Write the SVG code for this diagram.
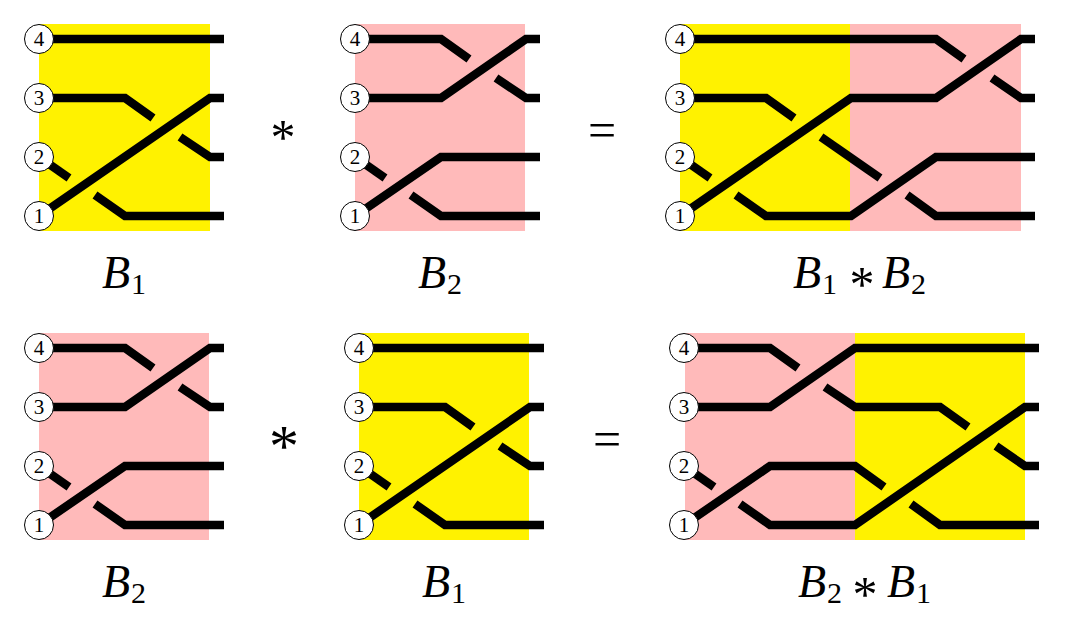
<svg xmlns="http://www.w3.org/2000/svg" width="1065" height="630" viewBox="0 0 1065 630">
<style>
.y{fill:#fff200}.p{fill:#ffbaba}
.s{fill:none;stroke:#000;stroke-width:8.500;stroke-linejoin:miter}
.c{fill:#fff;stroke:#000;stroke-width:1}
.n{font-family:"Liberation Serif",serif;font-size:21px;text-anchor:middle;fill:#000}
.l{font-family:"Liberation Serif",serif;font-size:46px;fill:#000}
.i{font-style:italic}
.sub{font-size:30px}
.o{font-family:"Liberation Serif",serif;fill:#000;text-anchor:middle}
</style>
<defs>
<g id="nums">
<g><circle class="c" cx="39" cy="39" r="14.500"/><text class="n" x="39" y="46">4</text></g>
<g><circle class="c" cx="39" cy="98" r="14.500"/><text class="n" x="39" y="105">3</text></g>
<g><circle class="c" cx="39" cy="157" r="14.500"/><text class="n" x="39" y="164">2</text></g>
<g><circle class="c" cx="39" cy="216" r="14.500"/><text class="n" x="39" y="223">1</text></g>
</g>
<g id="b1">
<polyline class="s" points="39,39 224,39"/>
<polyline class="s" points="39,98 125,98 153,118"/>
<polyline class="s" points="180,137 210,157 224,157"/>
<polyline class="s" points="39,157 69,178"/>
<polyline class="s" points="95,195 125,216 224,216"/>
<polyline class="s" points="39,216 210,98 224,98"/>
</g>
<g id="b2">
<polyline class="s" points="39,39 125,39 153,59"/>
<polyline class="s" points="180,78 210,98 224,98"/>
<polyline class="s" points="39,98 125,98 210,39 224,39"/>
<polyline class="s" points="39,157 69,178"/>
<polyline class="s" points="95,195 125,216 224,216"/>
<polyline class="s" points="39,216 125,157 224,157"/>
</g>
<g id="b12">
<polyline class="s" points="39,39 295,39 323,59"/>
<polyline class="s" points="351,78 380,98 394,98"/>
<polyline class="s" points="39,216 210,98 295,98 380,39 394,39"/>
<polyline class="s" points="39,98 125,98 153,118"/>
<polyline class="s" points="180,137 239,178"/>
<polyline class="s" points="266,195 295,216 394,216"/>
<polyline class="s" points="39,157 69,178"/>
<polyline class="s" points="95,195 125,216 210,216 295,157 394,157"/>
</g>
<g id="b21">
<polyline class="s" points="39,39 125,39 153,59"/>
<polyline class="s" points="180,78 210,98 295,98 323,118"/>
<polyline class="s" points="351,137 380,157 394,157"/>
<polyline class="s" points="39,98 125,98 210,39 394,39"/>
<polyline class="s" points="39,216 125,157 210,157 239,178"/>
<polyline class="s" points="266,195 295,216 394,216"/>
<polyline class="s" points="39,157 69,178"/>
<polyline class="s" points="95,195 125,216 210,216 380,98 394,98"/>
</g>
</defs>
<g id="backgrounds">
<rect class="y" x="39" y="24" width="171" height="207"/>
<rect class="p" x="355" y="24" width="170" height="207"/>
<rect class="y" x="680" y="24" width="170" height="207"/>
<rect class="p" x="850" y="24" width="171" height="207"/>
<rect class="p" x="39" y="333" width="170" height="207"/>
<rect class="y" x="359" y="333" width="170" height="207"/>
<rect class="p" x="685" y="333" width="170" height="207"/>
<rect class="y" x="855" y="333" width="170" height="207"/>
</g>
<g id="connectors">
<use href="#b1"/>
<use href="#b2" x="316"/>
<use href="#b12" x="641"/>
<use href="#b2" y="309"/>
<use href="#b1" x="320" y="309"/>
<use href="#b21" x="645" y="309"/>
</g>
<g id="nodes-b1"><use href="#nums"/></g>
<g id="nodes-b2"><use href="#nums" x="316"/></g>
<g id="nodes-b1b2"><use href="#nums" x="641"/></g>
<g id="nodes-b2-lower"><use href="#nums" y="309"/></g>
<g id="nodes-b1-lower"><use href="#nums" x="320" y="309"/></g>
<g id="nodes-b2b1"><use href="#nums" x="645" y="309"/></g>
<g id="labels">
<text class="l" x="102" y="288"><tspan class="i">B</tspan><tspan class="sub" dx="1" dy="6">1</tspan></text>
<text class="l" x="418" y="288"><tspan class="i">B</tspan><tspan class="sub" dx="1" dy="6">2</tspan></text>
<text class="l" x="793" y="288"><tspan class="i">B</tspan><tspan class="sub" dx="1" dy="6">1</tspan></text>
<text class="o" x="862" y="300.500" font-size="50">*</text>
<text class="l" x="882" y="288"><tspan class="i">B</tspan><tspan class="sub" dx="1" dy="6">2</tspan></text>
<text class="l" x="102" y="597"><tspan class="i">B</tspan><tspan class="sub" dx="1" dy="6">2</tspan></text>
<text class="l" x="422" y="597"><tspan class="i">B</tspan><tspan class="sub" dx="1" dy="6">1</tspan></text>
<text class="l" x="798" y="597"><tspan class="i">B</tspan><tspan class="sub" dx="1" dy="6">2</tspan></text>
<text class="o" x="865" y="610.500" font-size="50">*</text>
<text class="l" x="887" y="597"><tspan class="i">B</tspan><tspan class="sub" dx="1" dy="6">1</tspan></text>
<text class="o" x="283" y="153.500" font-size="50">*</text>
<text class="o" x="284" y="466" font-size="60">*</text>
<text class="o" x="602" y="147" font-size="50">=</text>
<text class="o" x="607" y="456" font-size="50">=</text>
</g>
</svg>
